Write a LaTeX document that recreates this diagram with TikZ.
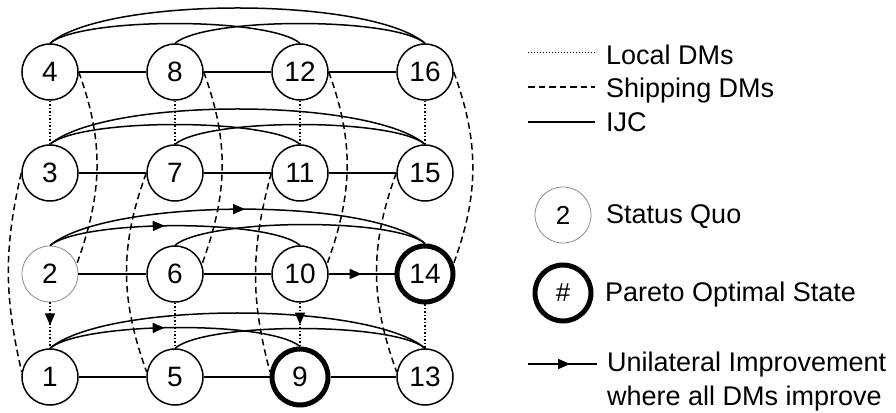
\documentclass[tikz,border=0pt]{standalone}
\usepackage{fontspec}
\setmainfont{Liberation Sans}
\usetikzlibrary{arrows.meta,decorations.markings}

\begin{document}
\begin{tikzpicture}[x=1pt,y=1pt,
  state/.style={circle, draw, line width=1.5pt, minimum size=56pt, inner sep=0pt,
    fill=white, font=\fontsize{28}{28}\selectfont},
  statusquo/.style={state, draw=black!45, line width=0.8pt},
  pareto/.style={state, line width=5pt},
  ijc/.style={line width=1.5pt},
  localdm/.style={line width=1.5pt, dotted},
  shipdm/.style={line width=1.5pt, dash pattern=on 6.5pt off 4pt},
  improve/.style={postaction={decorate}, decoration={markings,
    mark=at position #1 with {\arrow{Triangle[length=12pt,width=10pt]}}}},
  improve/.default=0.5,
  legend/.style={anchor=base west, inner sep=0pt, font=\fontsize{27}{27}\selectfont}
]
\fill[white] (0,0) rectangle (896,412);
\useasboundingbox (0,0) rectangle (896,412);

% states, four rows of four
\node[state] (n4)  at (50,340)  {4};
\node[state] (n8)  at (175,340) {8};
\node[state] (n12) at (300,340) {12};
\node[state] (n16) at (425,340) {16};

\node[state] (n3)  at (50,239)  {3};
\node[state] (n7)  at (175,239) {7};
\node[state] (n11) at (300,239) {11};
\node[state] (n15) at (425,239) {15};

\node[statusquo] (n2)  at (50,138)  {2};
\node[state]     (n6)  at (175,138) {6};
\node[state]     (n10) at (300,138) {10};
\node[pareto]    (n14) at (425,138) {14};

\node[state]  (n1)  at (50,35)  {1};
\node[state]  (n5)  at (175,35) {5};
\node[pareto] (n9)  at (300,35) {9};
\node[state]  (n13) at (425,35) {13};

% IJC moves: neighbours in a row
\draw[ijc] (n4) -- (n8);  \draw[ijc] (n8) -- (n12);  \draw[ijc] (n12) -- (n16);
\draw[ijc] (n3) -- (n7);  \draw[ijc] (n7) -- (n11);  \draw[ijc] (n11) -- (n15);
\draw[ijc] (n2) -- (n6);  \draw[ijc] (n6) -- (n10);  \draw[ijc, improve] (n10) -- (n14);
\draw[ijc] (n1) -- (n5);  \draw[ijc] (n5) -- (n9);   \draw[ijc] (n9) -- (n13);

% IJC moves: arcs over each row
\draw[ijc] (n4.north) to[out=40,in=140,looseness=0.5]  (n16.north);
\draw[ijc] (n4.north) to[out=40,in=140,looseness=0.42] (n12.north);
\draw[ijc] (n8.north) to[out=40,in=140,looseness=0.42] (n16.north);

\draw[ijc] (n3.north) to[out=40,in=140,looseness=0.5]  (n15.north);
\draw[ijc] (n3.north) to[out=40,in=140,looseness=0.42] (n11.north);
\draw[ijc] (n7.north) to[out=40,in=140,looseness=0.42] (n15.north);

\draw[ijc, improve=0.52] (n2.north) to[out=40,in=140,looseness=0.5]  (n14.north);
\draw[ijc, improve=0.46] (n2.north) to[out=40,in=140,looseness=0.42] (n10.north);
\draw[ijc] (n6.north) to[out=40,in=140,looseness=0.42] (n14.north);

\draw[ijc] (n1.north) to[out=40,in=140,looseness=0.5]  (n13.north);
\draw[ijc, improve=0.46] (n1.north) to[out=40,in=140,looseness=0.42] (n9.north);
\draw[ijc] (n5.north) to[out=40,in=140,looseness=0.42] (n13.north);

% local DMs
\draw[localdm] (n4) -- (n3);  \draw[localdm] (n8) -- (n7);
\draw[localdm] (n12) -- (n11); \draw[localdm] (n16) -- (n15);
\draw[localdm, improve] (n2) -- (n1);  \draw[localdm] (n6) -- (n5);
\draw[localdm, improve] (n10) -- (n9); \draw[localdm] (n14) -- (n13);

% shipping DMs
\draw[shipdm] (n4.east)  to[out=-70,in=70] (n2.20);
\draw[shipdm] (n8.east)  to[out=-70,in=70] (n6.20);
\draw[shipdm] (n12.east) to[out=-70,in=70] (n10.20);
\draw[shipdm] (n16.east) to[out=-70,in=70] (n14.20);
\draw[shipdm] (n3.west)  to[out=-103,in=103] (n1.170);
\draw[shipdm] (n7.west)  to[out=-110,in=110] (n5.170);
\draw[shipdm] (n11.west) to[out=-105,in=105] (n9.170);
\draw[shipdm] (n15.west) to[out=-110,in=110] (n13.170);

% legend
\coordinate (la1) at (528,359); \coordinate (lb1) at (595,359);
\coordinate (la2) at (528,325); \coordinate (lb2) at (595,325);
\coordinate (la3) at (528,290); \coordinate (lb3) at (595,290);
\coordinate (la4) at (528,48);  \coordinate (lb4) at (597,48);
\draw[line width=1pt, dotted] (la1) -- (lb1);
\draw[shipdm] (la2) -- (lb2);
\draw[ijc] (la3) -- (lb3);
\draw[ijc, improve=0.61] (la4) -- (lb4);

\node[legend] (tloc)  at (606,347) {Local DMs};
\node[legend] (tship) at (606,314) {Shipping DMs};
\node[legend] (tijc)  at (606,280) {IJC};

\node[statusquo, font=\fontsize{26}{26}\selectfont] (ksq) at (563,197) {2};
\node[legend] (tsq) at (606,188) {Status Quo};
\node[pareto, font=\fontsize{26}{26}\selectfont] (kpar) at (563,119) {\#};
\node[legend] (tpar) at (605,110) {Pareto Optimal State};

\node[legend] (tui1) at (607,40) {Unilateral Improvement};
\node[legend] (tui2) at (607,6)  {where all DMs improve};
\end{tikzpicture}
\end{document}
